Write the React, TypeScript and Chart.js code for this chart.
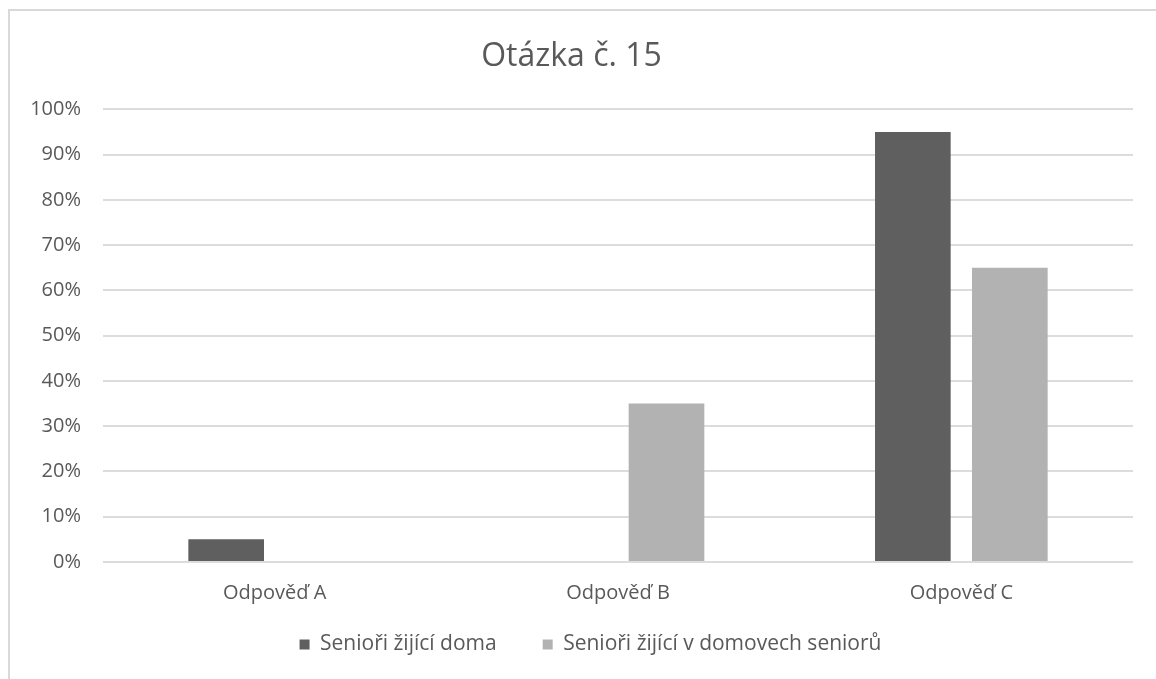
import React, { useEffect, useRef } from "react";
import { Chart, registerables } from "chart.js";

Chart.register(...registerables);

const categories = ["Odpověď A", "Odpověď B", "Odpověď C"];
const seriesNames = ["Senioři žijící doma", "Senioři žijící v domovech seniorů"];
const homeValues = [5, 0, 95];
const careHomeValues = [0, 35, 65];
const titleText = "Otázka č. 15";

const FONT = "'Open Sans', sans-serif";
const TEXT = "#595959";
const LEGEND_PAD = 46;
const LEGEND_EXTRA = LEGEND_PAD - 10;
const LEGEND_SHIFT_X = 19;

// Wider horizontal gap between legend items without making the legend box taller.
const legendGapPlugin = {
  id: "legendGap",
  afterInit(chart: any) {
    const lg = chart.legend;
    if (!lg || lg._gapPatched) return;
    const orig = lg.fit;
    lg.fit = function (...args: any[]) {
      orig.apply(this, args);
      this.height -= LEGEND_EXTRA;
    };
    lg._gapPatched = true;
  },
  afterLayout(chart: any) {
    const lg = chart.legend;
    if (lg) {
      lg.top -= LEGEND_EXTRA;
      lg.height += LEGEND_EXTRA;
      lg.left += LEGEND_SHIFT_X;
      lg.right += LEGEND_SHIFT_X;
    }
  },
};

export default function App() {
  const ref = useRef<HTMLCanvasElement | null>(null);

  useEffect(() => {
    if (!ref.current) return;
    const chart = new Chart(ref.current, {
      type: "bar",
      data: {
        labels: categories,
        datasets: [
          {
            label: seriesNames[0],
            data: homeValues,
            backgroundColor: "#5f5f5f",
            categoryPercentage: 0.565,
            barPercentage: 0.78,
          },
          {
            label: seriesNames[1],
            data: careHomeValues,
            backgroundColor: "#b2b2b2",
            categoryPercentage: 0.565,
            barPercentage: 0.78,
          },
        ],
      },
      plugins: [legendGapPlugin],
      options: {
        animation: false,
        responsive: true,
        maintainAspectRatio: false,
        layout: { padding: { left: 0, right: 23, top: 0, bottom: 14 } },
        plugins: {
          tooltip: { enabled: false },
          title: {
            display: true,
            text: titleText,
            color: TEXT,
            font: { family: FONT, size: 32, weight: "normal" },
            padding: { top: 27, bottom: 33 },
          },
          legend: {
            position: "bottom",
            labels: {
              color: TEXT,
              font: { family: FONT, size: 21 },
              boxWidth: 10,
              boxHeight: 10,
              padding: LEGEND_PAD,
            },
          },
        },
        scales: {
          x: {
            grid: { display: false, drawTicks: false },
            border: { display: false },
            ticks: {
              color: TEXT,
              font: { family: FONT, size: 20 },
              padding: 19,
            },
            afterFit: (scale: any) => {
              scale.height = 62;
            },
          },
          y: {
            min: 0,
            max: 100,
            grid: { color: "#dcdcdc", lineWidth: 2, drawTicks: false },
            border: { display: false },
            ticks: {
              stepSize: 10,
              color: TEXT,
              font: { family: FONT, size: 20 },
              padding: 22,
              callback: (v: any) => v + "%",
            },
            afterFit: (scale: any) => {
              scale.width = 93;
            },
          },
        },
      },
    });
    return () => chart.destroy();
  }, []);

  return (
    <div
      style={{
        position: "absolute",
        left: 8,
        top: 9,
        width: 1148,
        height: 670,
        boxSizing: "border-box",
        borderLeft: "2px solid #d9d9d9",
        borderTop: "2px solid #d9d9d9",
        background: "#fff",
      }}
    >
      <div style={{ position: "relative", width: "100%", height: "100%" }}>
        <canvas ref={ref} />
      </div>
    </div>
  );
}
